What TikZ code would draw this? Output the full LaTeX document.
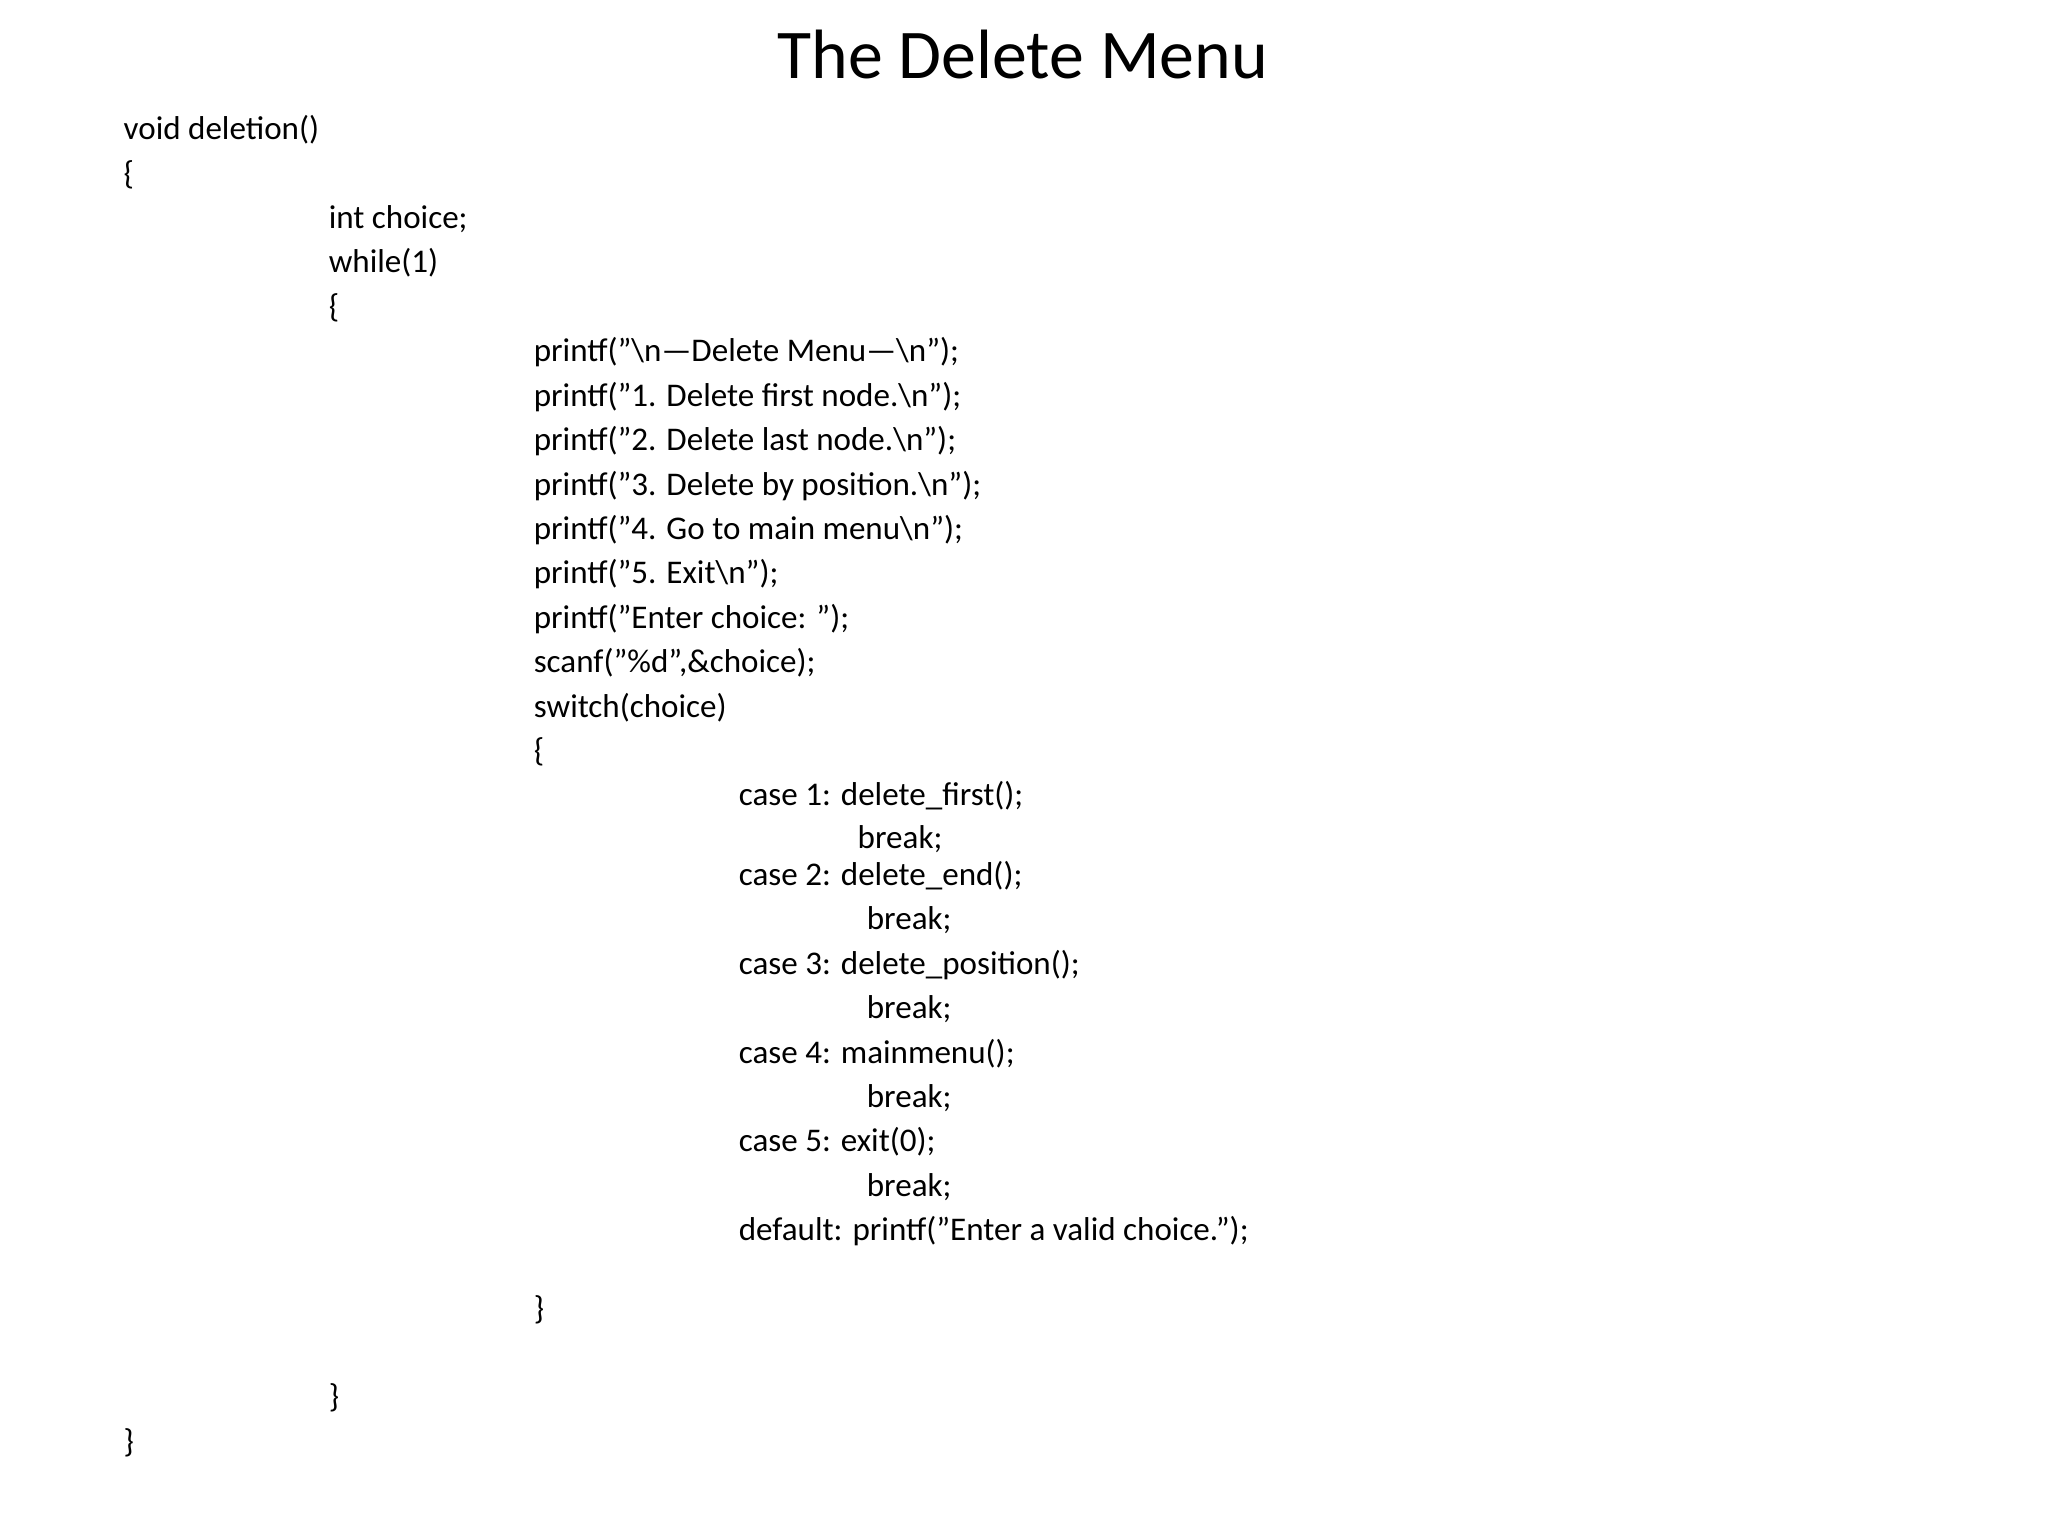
\documentclass[tikz,border=0pt]{standalone}
\usepackage{fontspec}
\setmainfont{Carlito}
\begin{document}
\begin{tikzpicture}[x=0.01cm,y=-0.01cm,
  code/.style={anchor=base west,inner sep=0pt,font=\fontsize{7.2pt}{8pt}\selectfont},
  ttl/.style={anchor=base,inner sep=0pt,font=\fontsize{15.2pt}{17pt}\selectfont}]
\useasboundingbox (0,0) rectangle (1568,1176);
\node[ttl] (title) at (783,60) {The Delete Menu};
\node[code] (l1) at (94,107) {void deletion()};
\node[code] (l2) at (94,141) {\{};
\node[code] (l3) at (251,175) {int choice;};
\node[code] (l4) at (251,209) {while(1)};
\node[code] (l5) at (251,243) {\{};
\node[code] (p1) at (408,277) {printf("\textbackslash n---Delete Menu---\textbackslash n");};
\node[code] (p2) at (408,311) {printf("1. Delete first node.\textbackslash n");};
\node[code] (p3) at (408,345) {printf("2. Delete last node.\textbackslash n");};
\node[code] (p4) at (408,379) {printf("3. Delete by position.\textbackslash n");};
\node[code] (p5) at (408,413) {printf("4. Go to main menu\textbackslash n");};
\node[code] (p6) at (408,447) {printf("5. Exit\textbackslash n");};
\node[code] (p7) at (408,481) {printf("Enter choice: ");};
\node[code] (p8) at (408,515) {scanf("\%d",\&choice);};
\node[code] (p9) at (408,549) {switch(choice)};
\node[code] (p10) at (408,583) {\{};
\node[code] (c1) at (565,617) {case 1: delete\_first();};
\node[code] (b1) at (656,650) {break;};
\node[code] (c2) at (565,678) {case 2: delete\_end();};
\node[code] (b2) at (663,712) {break;};
\node[code] (c3) at (565,746) {case 3: delete\_position();};
\node[code] (b3) at (663,780) {break;};
\node[code] (c4) at (565,814) {case 4: mainmenu();};
\node[code] (b4) at (663,848) {break;};
\node[code] (c5) at (565,882) {case 5: exit(0);};
\node[code] (b5) at (663,916) {break;};
\node[code] (d) at (565,950) {default: printf("Enter a valid choice.");};
\node[code] (e1) at (408,1010) {\}};
\node[code] (e2) at (251,1078) {\}};
\node[code] (e3) at (94,1112) {\}};
\end{tikzpicture}
\end{document}
